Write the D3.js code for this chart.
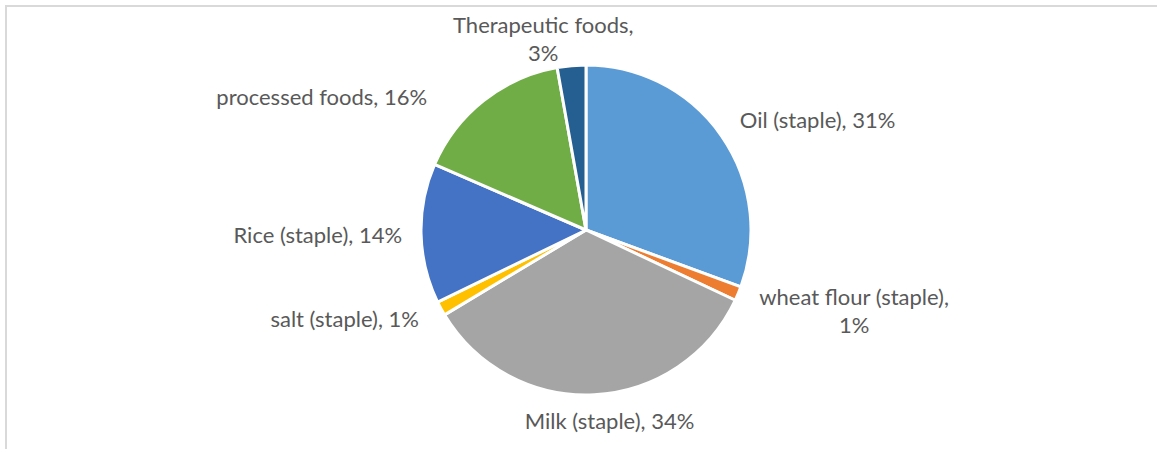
<!DOCTYPE html>
<html lang="en">
<head>
<meta charset="utf-8">
<title>Food share pie</title>
<script src="https://d3js.org/d3.v7.min.js"></script>
<style>
    body { margin: 0; background: #fff; }
    svg { display: block; }
    .lbl { font-family: Lato, "Noto Sans", sans-serif; fill: #595959; }
</style>
</head>
<body>
<svg id="chart" width="1157" height="449"></svg>
<script>
// chart data, in pie order (clockwise from 12 o'clock)
const categories = ["Oil (staple)", "wheat flour (staple)", "Milk (staple)", "salt (staple)",
                    "Rice (staple)", "processed foods", "Therapeutic foods"];
const shares = [30.6, 1.4, 34.4, 1.4, 13.7, 15.7, 2.8];
const colors = ["#5B9BD5", "#ED7D31", "#A5A5A5", "#FFC000", "#4472C4", "#70AD47", "#255E91"];
// labels that Excel wrapped onto two lines
const wrapped = [false, true, false, false, false, false, true];
// small label nudges (layout only)
const nudges = [[-2, -2], [-2, 7], [14, 0], [0, -2], [6, 0], [-41, 15], [-26, -3]];

const svg = d3.select("#chart");
const W = 1157, H = 449;
const cx = 586, cy = 230, radius = 165, labelR = 190;
const fontSize = 22, lineGap = 28;

// chart area border (only the top/left edges fall inside the picture)
svg.append("rect")
    .attr("x", 6).attr("y", 6)
    .attr("width", W + 20).attr("height", H + 20)
    .attr("fill", "none")
    .attr("stroke", "#d9d9d9")
    .attr("stroke-width", 2);

const data = categories.map((c, i) => ({ name: c, value: shares[i], i: i }));
const total = d3.sum(shares);

const pie = d3.pie().sort(null).value(d => d.value);
const arc = d3.arc().innerRadius(0).outerRadius(radius);
const arcs = pie(data);

const g = svg.append("g").attr("transform", "translate(" + cx + "," + cy + ")");

g.selectAll("path")
    .data(arcs)
    .enter()
    .append("path")
    .attr("d", arc)
    .attr("fill", d => colors[d.data.i])
    .attr("stroke", "#fff")
    .attr("stroke-width", 3)
    .attr("stroke-linejoin", "round");

// data labels
arcs.forEach(d => {
    let mid = (d.startAngle + d.endAngle) / 2;
    let s = Math.sin(mid), c = Math.cos(mid);
    let px = s * labelR + nudges[d.data.i][0];
    let py = -c * labelR + nudges[d.data.i][1];
    let pct = Math.round(d.data.value / total * 100) + "%";
    let lines = wrapped[d.data.i] ? [d.data.name + ",", pct] : [d.data.name + ", " + pct];

    let t = g.append("text")
        .attr("class", "lbl")
        .attr("font-size", fontSize)
        .attr("text-anchor", "middle")
        .attr("dominant-baseline", "central");

    lines.forEach((ln, k) => {
        t.append("tspan")
            .attr("x", 0)
            .attr("y", (k - (lines.length - 1) / 2) * lineGap)
            .text(ln);
    });

    // block width, so the block can hang off the anchor point on its side
    let bw = t.node().getBBox().width;
    let bx = px;
    if (s > 0.3) bx = px + bw / 2;
    else if (s < -0.3) bx = px - bw / 2;
    t.attr("transform", "translate(" + bx + "," + py + ")");
});
</script>
</body>
</html>
